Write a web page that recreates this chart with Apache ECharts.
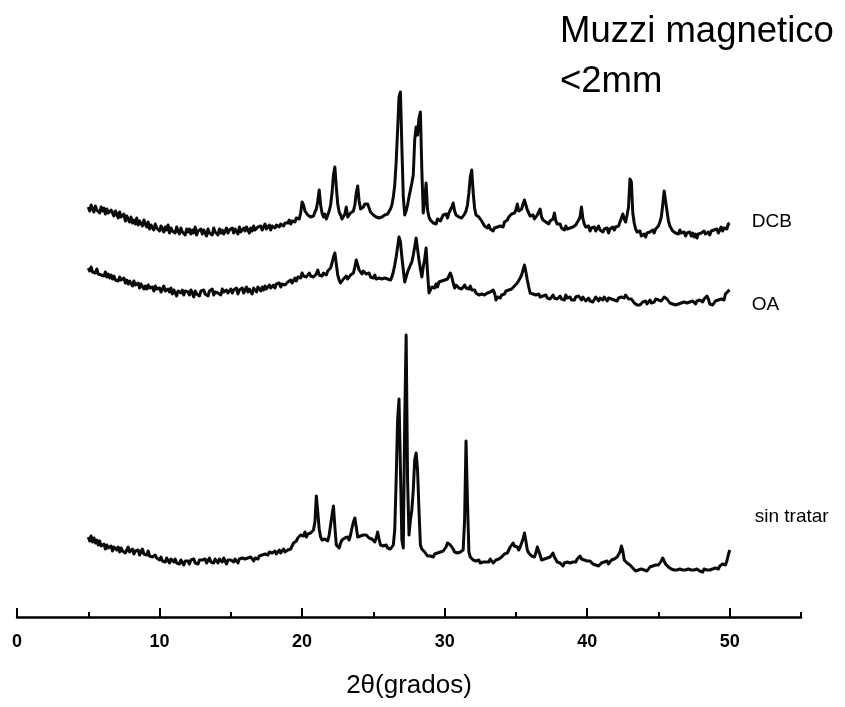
<!DOCTYPE html>
<html>
<head>
<meta charset="utf-8">
<script src="https://cdn.jsdelivr.net/npm/echarts@6/dist/echarts.min.js"></script>
<style>
html,body{margin:0;padding:0;background:#fff;}
#chart{width:845px;height:707px;}
</style>
</head>
<body>
<div id="chart"></div>
<script>
// 2θ measurement grid: 5.0° to 50.0°, step 0.1°
const twoThetaStart = 5.0;
const twoThetaStep = 0.1;
const twoThetaCount = 451;

// Intensities (a.u.), one value per 0.1° step
const dcb = [
90,86,92,88,85,91,87,89,84,90,
86,89,83,88,84,82,87,85,81,86,
83,79,85,80,78,83,76,81,79,75,
80,74,77,73,79,72,76,74,71,77,
73,70,75,68,72,70,67,73,69,71,
66,71,68,65,70,67,72,64,69,66,
68,64,70,66,63,69,65,67,62,68,
65,68,63,67,64,70,62,66,64,68,
63,67,65,61,68,64,66,62,69,65,
66,62,68,64,67,63,66,69,64,67,
65,69,64,68,66,63,70,65,67,69,
66,70,67,64,69,66,71,67,65,70,
68,71,67,70,73,68,70,72,67,71,
73,69,72,74,70,73,75,71,74,72,
74,77,73,76,78,75,79,80,78,84,
95,92,86,84,82,84,80,82,81,85,
88,96,107,92,84,80,83,78,82,86,
92,104,122,130,110,93,85,82,78,80,
83,90,80,82,84,82,86,92,104,111,
96,88,86,90,93,92,93,89,85,84,
82,84,80,82,79,81,80,78,82,81,
83,85,88,92,100,112,135,167,200,205,
150,100,82,86,92,100,107,114,122,157,
170,162,179,185,127,84,97,114,87,80,
77,79,74,76,73,78,80,76,79,82,
80,83,79,84,86,90,94,86,82,84,
80,82,79,81,83,86,92,104,120,127,
105,89,82,84,80,82,76,74,71,73,
69,72,68,70,66,69,67,70,68,71,
72,70,75,73,77,80,78,83,85,84,
87,93,86,85,88,93,97,92,87,84,
81,80,82,78,80,82,84,88,80,77,
79,75,77,73,76,74,78,84,76,73,
71,73,69,70,67,71,68,66,69,67,
70,68,72,74,77,80,90,78,73,70,
68,71,66,69,67,70,66,68,71,67,
69,65,68,66,69,64,68,66,70,67,
70,72,71,75,79,83,78,75,82,90,
118,115,84,74,68,65,63,66,61,60,
63,60,64,62,65,63,67,64,68,70,
71,75,80,92,106,104,86,76,71,69,
66,68,64,66,63,67,64,62,65,61,
64,62,65,61,64,60,63,59,63,61,
64,62,66,63,61,65,62,66,64,67,
65,68,64,67,70,66,69,71,68,73,
74
];

const oa = [
99,96,100,95,97,94,98,93,95,92,
94,91,95,90,93,89,92,88,91,87,
89,86,90,87,85,89,84,87,83,86,
84,81,86,82,80,84,79,83,81,78,
81,78,82,79,77,80,76,81,78,76,
79,75,78,81,76,74,78,75,79,73,
77,74,71,76,78,74,77,72,76,74,
75,72,77,74,70,76,73,75,71,76,
74,77,73,75,71,76,74,78,72,75,
77,74,76,72,78,75,73,77,74,76,
78,74,77,75,79,73,77,76,79,74,
77,80,75,78,76,73,79,77,75,80,
78,76,80,77,81,78,76,82,79,80,
82,79,83,81,84,80,83,85,82,84,
85,83,87,84,86,89,86,90,92,89,
94,91,93,90,92,94,91,93,90,92,
93,97,92,94,91,94,95,92,96,97,
99,104,110,114,103,92,87,84,86,88,
89,91,88,90,92,91,94,100,107,102,
97,95,93,96,95,93,92,94,90,91,
89,92,88,90,89,91,88,90,89,87,
88,86,87,90,95,102,110,120,130,125,
110,97,85,90,95,97,102,105,112,120,
129,118,107,98,90,100,108,119,95,74,
76,80,82,79,83,80,85,83,86,84,
87,85,88,90,94,90,84,79,82,80,
79,81,78,80,82,79,80,78,81,77,
75,77,74,73,72,70,73,71,72,74,
74,72,75,73,77,74,67,70,72,69,
72,74,73,76,75,77,79,78,80,81,
82,84,86,89,92,97,102,95,87,80,
74,76,73,75,72,71,73,70,72,71,
70,72,69,71,68,70,72,69,71,68,
69,71,68,70,67,72,69,68,70,67,
69,67,70,68,71,69,67,70,68,66,
67,69,66,68,65,67,70,68,66,69,
69,67,70,68,66,69,71,68,70,67,
68,66,69,67,70,71,69,72,70,68,
69,68,66,64,63,62,64,62,63,65,
64,66,63,65,67,64,66,65,68,66,
67,69,66,68,70,70,68,66,64,65,
63,65,62,64,63,61,64,62,65,63,
64,62,65,63,66,65,63,66,64,67,
67,65,68,66,71,68,63,65,62,64,
66,64,67,65,68,70,67,73,71,76,
77
];

const sinTratar = [
80,76,81,75,79,74,77,72,76,71,
70,73,68,72,69,67,71,66,70,68,
67,70,65,69,66,68,64,67,70,65,
65,68,63,66,64,67,62,65,68,63,
64,62,66,61,63,60,58,62,59,61,
57,60,56,58,55,59,57,54,58,56,
55,58,54,56,53,57,55,52,56,54,
56,53,57,55,58,54,56,53,57,55,
57,55,58,54,56,59,55,57,54,58,
57,54,58,56,55,59,56,53,57,55,
57,59,55,58,56,54,58,56,59,57,
58,56,59,57,60,58,56,59,61,58,
61,59,62,60,63,64,62,65,63,64,
64,66,63,65,67,64,66,68,65,67,
67,69,68,71,74,72,76,79,81,82,
84,81,85,80,83,81,84,82,87,95,
121,105,88,80,77,75,78,79,76,82,
92,102,111,90,72,70,69,74,77,79,
79,77,80,77,82,89,95,99,90,80,
79,81,79,82,84,82,80,79,81,78,
77,75,79,85,78,72,73,71,70,72,
69,70,68,67,72,87,137,197,218,147,
77,69,197,282,137,82,97,107,127,157,
164,147,107,72,68,67,65,63,61,63,
61,62,60,63,61,64,63,65,64,66,
67,70,74,72,72,70,68,65,67,64,
63,65,64,67,97,176,117,65,60,58,
57,58,56,55,57,54,56,55,57,55,
57,55,58,56,54,55,57,56,58,60,
60,62,63,65,64,67,70,72,74,71,
69,70,67,70,74,78,84,76,67,64,
62,61,63,60,64,70,66,62,57,59,
58,59,59,57,60,62,64,60,58,55,
56,54,53,51,54,52,55,53,54,56,
55,57,55,58,59,61,58,56,57,55,
56,54,56,55,53,55,52,54,51,53,
54,52,55,54,56,53,55,57,56,58,
58,60,62,65,71,66,57,55,54,53,
52,50,49,48,46,45,47,46,48,46,
47,49,46,48,50,49,51,50,52,51,
52,54,56,59,56,53,51,50,49,48,
49,47,48,47,46,48,46,47,45,47,
46,48,46,47,45,47,46,48,47,46,
47,45,48,46,47,49,47,46,48,47,
49,50,48,51,50,53,54,52,56,62,
67
];

// Vertical offsets used to stack the patterns (a.u.)
const offsetDCB = 320;
const offsetOA = 250;
const offsetSinTratar = 0;

const seriesNames = ['DCB', 'OA', 'sin tratar'];
const xTickLabels = [0, 10, 20, 30, 40, 50];
const titleLines = ['Muzzi magnetico', '<2mm'];
const xAxisTitle = '2θ(grados)';

function buildPairs(values, offset) {
  const out = [];
  for (let i = 0; i < values.length && i < twoThetaCount; i++) {
    const x = +(twoThetaStart + i * twoThetaStep).toFixed(1);
    out.push([x, values[i] + offset]);
  }
  return out;
}

const FONT = '"Liberation Sans", Arial, Helvetica, sans-serif';
const chart = echarts.init(document.getElementById('chart'), null, {renderer: 'canvas'});

const gridLeft = 17, gridRight = 44, gridTop = 80, gridBottom = 90;
const gridWidth = 845 - gridLeft - gridRight;

function lineSeries(name, values, offset, labelOffset) {
  return {
    name: name,
    type: 'line',
    xAxisIndex: 0,
    yAxisIndex: 0,
    data: buildPairs(values, offset),
    showSymbol: false,
    symbol: 'none',
    sampling: null,
    silent: true,
    lineStyle: {color: '#0a0a0a', width: 3, join: 'round'},
    endLabel: {
      show: true,
      formatter: name,
      color: '#000',
      fontFamily: FONT,
      fontSize: 19,
      distance: 0,
      offset: labelOffset
    }
  };
}

chart.setOption({
  animation: false,
  backgroundColor: '#fff',
  title: {
    text: titleLines.join('\n'),
    left: 555,
    top: 2,
    textStyle: {fontFamily: FONT, fontSize: 36.5, fontWeight: 'normal', color: '#000', lineHeight: 50}
  },
  grid: [
    {left: gridLeft, right: gridRight, top: gridTop, bottom: gridBottom},
    {left: gridLeft, width: gridWidth * 50 / 55, top: gridTop, bottom: gridBottom}
  ],
  xAxis: [
    {
      type: 'value', gridIndex: 0, min: 0, max: 55, interval: 5,
      name: xAxisTitle, nameLocation: 'middle', nameGap: 56,
      nameTextStyle: {fontFamily: FONT, fontSize: 26, color: '#000'},
      axisLine: {show: true, onZero: false, lineStyle: {color: '#000', width: 2.5}},
      axisTick: {show: true, inside: true, length: 5, lineStyle: {color: '#000', width: 2}},
      axisLabel: {
        show: true, margin: 16, color: '#000', fontFamily: FONT, fontSize: 18, fontWeight: 'bold',
        formatter: function (v) { return xTickLabels.indexOf(v) >= 0 ? String(v) : ''; }
      },
      splitLine: {show: false}
    },
    {
      type: 'value', gridIndex: 1, min: 0, max: 50, interval: 10,
      axisLine: {show: false, onZero: false},
      axisTick: {show: true, inside: true, length: 9, lineStyle: {color: '#000', width: 2}},
      axisLabel: {show: false},
      splitLine: {show: false}
    }
  ],
  yAxis: [
    {type: 'value', gridIndex: 0, min: 0, max: 537, show: false, splitLine: {show: false}},
    {type: 'value', gridIndex: 1, min: 0, max: 537, show: false, splitLine: {show: false}}
  ],
  series: [
    lineSeries(seriesNames[0], dcb, offsetDCB, [22, -1]),
    lineSeries(seriesNames[1], oa, offsetOA, [22, 15]),
    lineSeries(seriesNames[2], sinTratar, offsetSinTratar, [25, -33])
  ]
});
</script>
</body>
</html>
